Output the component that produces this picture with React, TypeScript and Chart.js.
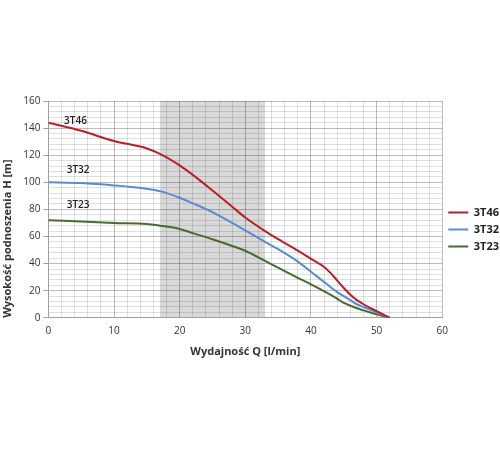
import React, { useEffect, useRef } from "react";
import { Chart, registerables } from "chart.js";

Chart.register(...registerables);

const flow = [0, 5, 10, 15, 17, 20, 22, 25, 28, 30, 33, 35, 38, 40, 42, 43, 44, 45, 46, 47, 48, 50, 52];
const h3T46 = [144, 138, 130.5, 125, 121, 112.5, 105.5, 94, 82, 74, 64, 58, 49.5, 43.5, 37.5, 33, 27.5, 22, 17, 13, 10, 5, 0];
const h3T32 = [100, 99.4, 97.7, 95.2, 93.5, 88.6, 84.5, 78, 70, 64.5, 56, 50.7, 41.5, 34, 26.5, 22.5, 19, 16, 13, 10, 8, 4, 0];
const h3T23 = [72, 71, 70, 69.3, 68, 65.6, 62.5, 58, 53, 49.5, 42, 37, 29.5, 24.7, 19.5, 17, 14, 11, 9, 7, 5.5, 2.5, 0];

const seriesNames = ["3T46", "3T32", "3T23"];
const seriesColors = ["#b81f2a", "#5b8bd0", "#4b6a2e"];
const seriesValues = [h3T46, h3T32, h3T23];

// in-chart labels
const labelNames = ["3T46", "3T32", "3T23"];
const labelQ = [2.4, 2.8, 2.8];
const labelH = [145, 109, 83];

const bandStart = 17;
const bandEnd = 33;

const xTickLabels = [0, 10, 20, 30, 40, 50, 60];
const yTickLabels = [0, 20, 40, 60, 80, 100, 120, 140, 160];

const FONT = "'Open Sans', sans-serif";
const MINOR = "rgba(0,0,0,0.12)";
const MAJOR = "rgba(0,0,0,0.26)";

const bandPlugin = {
  id: "band",
  beforeDraw(chart: any) {
    const { ctx, chartArea, scales } = chart;
    const x0 = scales.x.getPixelForValue(bandStart);
    const x1 = scales.x.getPixelForValue(bandEnd);
    ctx.save();
    ctx.fillStyle = "#d9d9d9";
    ctx.fillRect(x0, chartArea.top, x1 - x0, chartArea.bottom - chartArea.top);
    ctx.restore();
  },
};

const labelPlugin = {
  id: "curveLabels",
  afterDatasetsDraw(chart: any) {
    const { ctx, scales } = chart;
    ctx.save();
    ctx.font = `600 10px ${FONT}`;
    ctx.fillStyle = "#222";
    ctx.textAlign = "left";
    ctx.textBaseline = "middle";
    labelNames.forEach((n, i) => {
      ctx.fillText(n, scales.x.getPixelForValue(labelQ[i]), scales.y.getPixelForValue(labelH[i]));
    });
    ctx.restore();
  },
};

export default function App() {
  const ref = useRef<HTMLCanvasElement | null>(null);
  useEffect(() => {
    if (!ref.current) return;
    const chart = new Chart(ref.current, {
      type: "line",
      data: {
        datasets: seriesNames.map((name, i) => ({
          label: name,
          data: flow.map((q, j) => ({ x: q, y: seriesValues[i][j] })),
          borderColor: seriesColors[i],
          backgroundColor: seriesColors[i],
          borderWidth: 2,
          pointRadius: 0,
          pointStyle: "line",
          cubicInterpolationMode: "monotone" as const,
          fill: false,
        })),
      },
      options: {
        animation: false,
        responsive: true,
        maintainAspectRatio: false,
        layout: { padding: { top: 101, bottom: 92, left: 0, right: -9 } },
        plugins: {
          tooltip: { enabled: false },
          legend: {
            position: "right",
            labels: {
              usePointStyle: true,
              pointStyleWidth: 20,
              boxHeight: 2,
              padding: 6,
              color: "#222",
              font: { family: FONT, size: 11, weight: "bold" },
            },
          },
        },
        scales: {
          x: {
            type: "linear",
            min: 0,
            max: 60,
            border: { color: "#a0a0a0" },
            grid: {
              color: (c: any) => (c.tick && c.tick.value % 10 === 0 ? MAJOR : MINOR),
              lineWidth: 1,
              drawTicks: false,
            },
            ticks: {
              stepSize: 2,
              maxTicksLimit: 100,
              autoSkip: false,
              maxRotation: 0,
              padding: 7,
              color: "#333",
              font: { family: FONT, size: 10 },
              callback: (v: any) => (xTickLabels.includes(Number(v)) ? String(v) : ""),
            },
            title: {
              display: true,
              text: "Wydajność Q [l/min]",
              color: "#333",
              font: { family: FONT, size: 11, weight: "bold" },
              padding: { top: 1, bottom: 0 },
            },
          },
          y: {
            type: "linear",
            min: 0,
            max: 160,
            border: { color: "#a0a0a0" },
            grid: {
              color: (c: any) => (c.tick && c.tick.value % 20 === 0 ? MAJOR : MINOR),
              tickColor: (c: any) => (c.tick && c.tick.value % 20 === 0 ? "#a0a0a0" : "rgba(0,0,0,0)"),
              lineWidth: 1,
              drawTicks: true,
              tickLength: 5,
            },
            ticks: {
              stepSize: 4,
              maxTicksLimit: 100,
              autoSkip: false,
              padding: 3,
              color: "#333",
              font: { family: FONT, size: 10 },
              callback: (v: any) => (yTickLabels.includes(Number(v)) ? String(v) : ""),
            },
            title: {
              display: true,
              align: "start",
              text: "Wysokość podnoszenia H [m]",
              color: "#333",
              font: { family: FONT, size: 11, weight: "bold" },
              padding: { top: 1, bottom: 6 },
            },
          },
        },
      },
      plugins: [bandPlugin, labelPlugin],
    });
    return () => chart.destroy();
  }, []);
  return (
    <div style={{ position: "fixed", left: 0, top: 0, width: 500, height: 450, background: "#fff" }}>
      <canvas ref={ref} />
    </div>
  );
}
